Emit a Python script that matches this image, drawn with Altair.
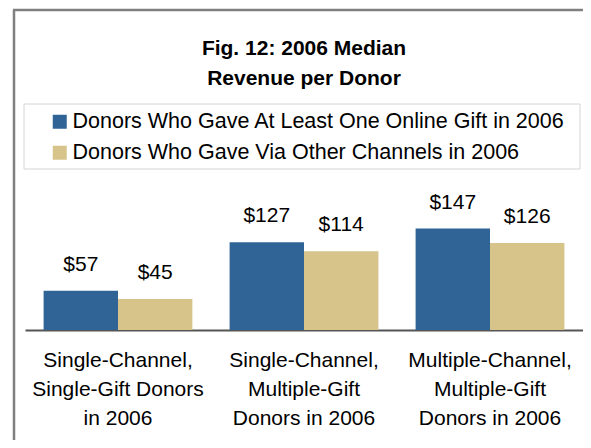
import altair as alt
import pandas as pd

categories = [
    "Single-Channel,|Single-Gift Donors|in 2006",
    "Single-Channel,|Multiple-Gift|Donors in 2006",
    "Multiple-Channel,|Multiple-Gift|Donors in 2006",
]
series = [
    "Donors Who Gave At Least One Online Gift in 2006",
    "Donors Who Gave Via Other Channels in 2006",
]
online_values = [57, 127, 147]
other_values = [45, 114, 126]
colors = ["#306396", "#d7c48b"]
title_lines = ["Fig. 12: 2006 Median", "Revenue per Donor"]

rows = []
for i, c in enumerate(categories):
    rows.append({"category": c, "series": series[0], "value": online_values[i]})
    rows.append({"category": c, "series": series[1], "value": other_values[i]})
df = pd.DataFrame(rows)

FONT = "Liberation Sans"

x_enc = alt.X(
    "category:N",
    sort=categories,
    scale=alt.Scale(paddingInner=0.2, paddingOuter=0.1),
    axis=alt.Axis(
        title=None,
        labelAngle=0,
        labelExpr="split(datum.label, '|')",
        labelFontSize=21,
        labelFont=FONT,
        labelColor="#000000",
        labelLineHeight=29,
        labelPadding=19,
        labelLimit=0,
        ticks=False,
        domainColor="#555555",
        domainWidth=2,
    ),
)
xo_enc = alt.XOffset("series:N", sort=series, scale=alt.Scale(paddingInner=0, paddingOuter=0))
y_enc = alt.Y("value:Q", scale=alt.Scale(domain=[0, 200]), axis=None)

base = alt.Chart(df)

bars = base.mark_bar().encode(
    x=x_enc,
    xOffset=xo_enc,
    y=y_enc,
    color=alt.Color(
        "series:N",
        sort=series,
        scale=alt.Scale(domain=series, range=colors),
        legend=alt.Legend(
            title=None,
            orient="none",
            legendX=24,
            legendY=-81,
            symbolType="square",
            symbolSize=196,
            symbolStrokeWidth=0,
            labelFontSize=21.5,
            labelFont=FONT,
            labelColor="#000000",
            labelOffset=2,
            labelLimit=0,
            rowPadding=8,
        ),
    ),
)

labels = base.mark_text(
    fontSize=21, font=FONT, color="#000000", baseline="alphabetic", dy=-20
).transform_calculate(lbl="'$' + datum.value").encode(
    x=x_enc,
    xOffset=xo_enc,
    y=y_enc,
    text="lbl:N",
)

one = pd.DataFrame({"d": [0]})
title_mark = alt.Chart(one).mark_text(
    font=FONT, fontSize=21, fontWeight="bold", color="#000000",
    align="center", baseline="alphabetic", lineHeight=30,
).encode(x=alt.value(279), y=alt.value(-137), text=alt.value(title_lines))

frame_left = alt.Chart(one).mark_rule(color="#808080", strokeWidth=2.5).encode(
    x=alt.value(-11), y=alt.value(-182), y2=alt.value(270)
)
frame_top = alt.Chart(one).mark_rule(color="#808080", strokeWidth=2.5).encode(
    x=alt.value(-12), x2=alt.value(600), y=alt.value(-182)
)
legend_box = alt.Chart(one).mark_rect(
    fill="transparent", stroke="#d4d4d4", strokeWidth=1
).encode(
    x=alt.value(-1), x2=alt.value(555), y=alt.value(-88), y2=alt.value(-23)
)

chart = alt.layer(frame_left, frame_top, legend_box, title_mark, bars, labels).properties(
    width=558,
    height=138,
    autosize=alt.AutoSizeParams(type="none"),
    padding={"left": 17, "top": 184, "right": 0, "bottom": 110},
    background="white",
).configure_view(stroke=None)

chart.save("out.html", embed_options={"renderer": "svg", "actions": False})
